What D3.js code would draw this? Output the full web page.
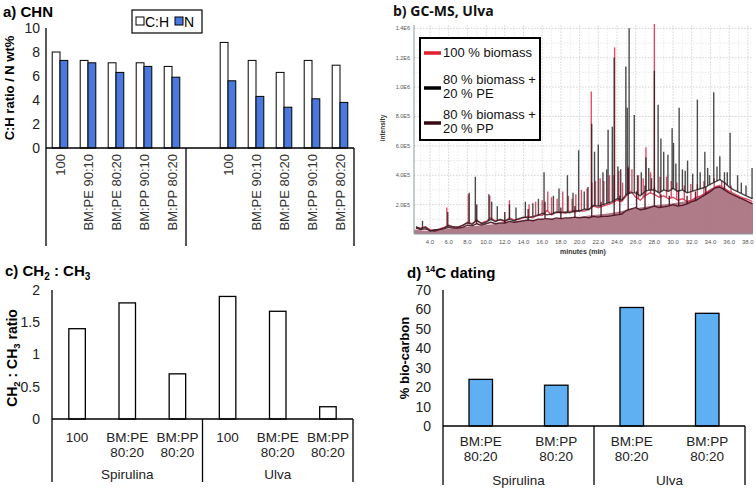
<!DOCTYPE html>
<html><head><meta charset="utf-8">
<script src="https://cdn.jsdelivr.net/npm/d3@7"></script>
<style>
body{margin:0;background:#fff;}
svg{display:block;font-family:"Liberation Sans",Arial,sans-serif;}
</style></head>
<body><svg id="c" width="756" height="491"></svg>
<script>
// ---------- Panel a: CHN ----------
const chnCategories = ["100","BM:PE 90:10","BM:PE 80:20","BM:PP 90:10","BM:PP 80:20","","100","BM:PE 90:10","BM:PE 80:20","BM:PP 90:10","BM:PP 80:20"];
const chnCH = [8.0,7.3,7.1,7.1,6.8,null,8.8,7.3,6.3,7.3,6.9];
const chnN  = [7.3,7.1,6.3,6.8,5.9,null,5.6,4.3,3.4,4.1,3.8];
const chnTicks = [0,2,4,6,8,10];
const chnGroups = ["Spirulina","Ulva"];

// ---------- Panel b: GC-MS (intensity in units of 1E5) ----------
const gcTimes = [2.5,3,3.5,4,4.5,5,5.5,6,6.5,7,7.5,8,8.5,9,9.5,10,10.5,11,11.5,12,12.5,13,13.5,14,14.5,15,15.5,16,16.5,17,17.5,18,18.5,19,19.5,20,20.5,21,21.5,22,22.5,23,23.5,24,24.5,25,25.5,26,26.5,27,27.5,28,28.5,29,29.5,30,30.5,31,31.5,32,32.5,33,33.5,34,34.5,35,35.5,36,36.5,37,37.5,38,38.5];
const gcBiomass = [0.45,0.4,0.5,0.3,0.25,0.35,0.45,0.6,0.45,0.5,0.55,0.8,0.7,0.9,0.75,0.85,1.1,0.9,0.95,0.85,1.1,0.95,1.0,1.1,1.2,1.1,1.3,1.25,1.6,1.3,1.45,1.5,1.4,1.55,1.5,1.6,1.55,1.7,1.9,1.8,1.9,2.0,2.1,2.3,2.2,2.6,2.9,2.5,2.3,2.6,2.8,2.7,2.5,2.6,2.4,2.5,2.3,2.4,2.2,2.3,2.5,2.6,2.8,3.0,3.2,3.3,3.1,2.9,2.75,2.6,2.45,2.35,2.2];
const gcPE = [0.5,0.35,0.45,0.2,0.3,0.3,0.4,0.55,0.5,0.45,0.6,0.75,0.65,0.95,0.7,0.8,1.0,0.85,1.0,0.9,1.0,0.9,1.05,1.15,1.1,1.2,1.25,1.4,1.3,1.35,1.5,1.45,1.5,1.45,1.6,1.55,1.7,1.65,1.95,1.9,2.0,2.1,2.2,2.4,2.3,2.7,2.8,2.8,2.6,2.9,3.0,3.0,2.8,3.0,2.9,3.1,2.9,3.0,2.8,2.9,3.0,3.1,3.2,3.4,3.55,3.7,3.5,3.2,3.0,2.85,2.7,2.55,2.4];
const gcPP = [0.4,0.3,0.35,0.25,0.2,0.3,0.35,0.45,0.4,0.4,0.45,0.6,0.55,0.7,0.6,0.7,0.8,0.7,0.75,0.75,0.85,0.8,0.85,0.9,0.95,0.9,1.0,1.0,1.05,1.0,1.1,1.05,1.1,1.1,1.15,1.1,1.15,1.1,1.2,1.15,1.2,1.2,1.25,1.3,1.35,1.6,1.7,1.8,1.65,1.7,1.8,1.9,1.8,1.85,1.9,2.0,1.9,1.95,2.05,2.2,2.3,2.5,2.7,2.9,3.15,3.2,3.0,2.8,2.65,2.5,2.35,2.2,2.05];
const gcFillTimes = [2.3,4,6,8,10,12,14,16,18,20,22,24,26,28,30,32,33,34,34.8,36,37,38,38.55];
const gcFill = [0.3,0.2,0.35,0.5,0.62,0.75,0.88,0.98,1.08,1.18,1.32,1.5,1.75,1.95,2.1,2.35,2.65,3.05,3.25,2.85,2.55,2.25,2.1];
const peaksBiomass = [[5.8,1.8],[8.1,2.7],[10.4,2.6],[12.5,2.3],[14.6,2.0],[15.3,2.2],[16.0,2.3],[16.6,2.9],[17.0,2.5],[17.6,2.4],[18.2,2.9],[18.8,2.6],[19.2,2.4],[19.6,2.7],[20.2,3.0],[20.8,3.1],[21.25,9.7],[21.7,3.6],[22.2,3.8],[22.6,3.6],[23.2,4.0],[23.75,12.7],[24.2,4.3],[24.6,3.5],[25.2,4.6],[25.6,4.4],[26.3,4.0],[26.8,3.8],[27.1,5.9],[27.6,4.2],[28.0,14.3],[28.6,3.9],[29.3,3.9],[29.8,3.6],[30.4,3.5],[31.2,3.3],[31.9,3.4],[32.6,3.4],[33.3,3.6],[34.4,3.8],[35.2,3.6],[36.2,3.3]];
const peaksPE = [[3.2,0.9],[5.9,1.5],[8.2,2.8],[8.85,3.9],[10.3,2.7],[10.6,2.2],[11.2,1.9],[12.5,2.0],[13.2,1.8],[14.2,2.2],[15.0,2.1],[15.6,2.4],[16.2,4.2],[17.2,2.6],[17.8,3.1],[18.7,4.0],[19.3,2.8],[19.9,5.7],[20.5,2.9],[20.9,3.2],[21.3,7.5],[21.6,5.6],[22.0,6.1],[22.5,4.2],[22.9,4.4],[23.05,7.1],[23.5,7.3],[23.7,12.0],[24.1,4.6],[24.4,4.4],[24.95,11.4],[25.1,8.6],[25.3,14.0],[25.85,8.1],[26.2,4.0],[26.6,4.2],[27.1,5.2],[27.4,4.5],[27.7,3.8],[28.0,11.1],[28.4,8.8],[28.7,6.5],[29.0,5.6],[29.45,5.4],[29.9,7.2],[30.05,6.2],[30.3,4.8],[30.65,8.6],[31.0,4.4],[31.3,4.3],[31.55,5.0],[32.1,4.1],[32.6,9.15],[32.9,4.2],[33.4,5.6],[33.7,4.5],[33.9,4.0],[34.35,9.65],[34.7,4.6],[35.0,5.3],[35.5,4.2],[35.8,4.2],[36.1,6.9],[36.9,4.0],[37.3,3.5],[37.8,3.3],[38.45,4.5]];
const peaksPP = [[9.0,2.0],[12.0,1.5],[14.5,1.7],[16.3,2.2],[18.0,1.8],[19.5,1.9],[21.3,3.5],[22.3,2.2],[23.7,4.0],[24.3,2.6],[25.2,4.5],[26.1,2.9],[27.0,3.3],[28.0,3.2],[28.7,2.7],[29.6,2.6],[30.6,3.0],[31.5,2.6],[32.4,2.9],[33.5,3.2],[35.5,3.5]];
const gcXTicks = [4,6,8,10,12,14,16,18,20,22,24,26,28,30,32,34,36,38];
const gcYTicks = [2,4,6,8,10,12,14];
const gcYTickLabels = ["2.0E5","4.0E5","6.0E5","8.0E5","1.0E6","1.2E6","1.4E6"];
const gcLegend = [["100 % biomass"],["80 % biomass +","20 % PE"],["80 % biomass +","20 % PP"]];

// ---------- Panel c: CH2:CH3 ----------
const ch2Categories = [["100"],["BM:PE","80:20"],["BM:PP","80:20"],["100"],["BM:PE","80:20"],["BM:PP","80:20"]];
const ch2Values = [1.4,1.8,0.7,1.9,1.67,0.19];
const ch2Ticks = [0,0.5,1,1.5,2];

// ---------- Panel d: 14C dating ----------
const c14Categories = [["BM:PE","80:20"],["BM:PP","80:20"],["BM:PE","80:20"],["BM:PP","80:20"]];
const c14Values = [24,21,61,58];
const c14Ticks = [0,10,20,30,40,50,60,70];

const svg = d3.select("#c");
const txt = "#222";

// ===== Panel a =====
(function(){
  const g = svg.append("g");
  const x = d3.scaleBand().domain(d3.range(chnCategories.length)).range([46,354]);
  const y = d3.scaleLinear().domain([0,10]).range([148,28]);
  const inner = d3.scaleBand().domain(["ch","n"]).range([-7.8,7.8]);
  g.append("text").attr("x",3).attr("y",17).attr("font-size",15).attr("font-weight","bold").text("a) CHN");
  svg.append("clipPath").attr("id","clipA").append("rect").attr("x",0).attr("y",0).attr("width",370).attr("height",246);
  const ax = g.append("g").attr("transform","translate(46,0)").call(d3.axisLeft(y).tickValues(chnTicks).tickSize(0).tickPadding(6));
  ax.select(".domain").remove();
  ax.selectAll("text").attr("font-size",14).attr("fill",txt).attr("font-family","Liberation Sans, Arial");
  g.append("text").attr("transform","translate(14,88) rotate(-90)").attr("text-anchor","middle").attr("font-size",13).attr("font-weight","bold").text("C:H ratio / N wt%");
  const idx = d3.range(chnCategories.length).filter(i=>chnCH[i]!=null);
  g.selectAll(".ch").data(idx).join("rect").attr("x",i=>x(i)+x.bandwidth()/2+inner("ch")).attr("width",inner.bandwidth())
    .attr("y",i=>y(chnCH[i])).attr("height",i=>y(0)-y(chnCH[i])).attr("fill","#fff").attr("stroke","#000").attr("stroke-width",1);
  g.selectAll(".n").data(idx).join("rect").attr("x",i=>x(i)+x.bandwidth()/2+inner("n")).attr("width",inner.bandwidth())
    .attr("y",i=>y(chnN[i])).attr("height",i=>y(0)-y(chnN[i])).attr("fill","#4a78dc").attr("stroke","#000").attr("stroke-width",1);
  const gc = g.append("g").attr("clip-path","url(#clipA)");
  gc.append("line").attr("x1",46).attr("x2",46).attr("y1",y(10)).attr("y2",260).attr("stroke","#000").attr("stroke-width",1.3);
  gc.append("line").attr("x1",46).attr("x2",354).attr("y1",y(0)).attr("y2",y(0)).attr("stroke","#000").attr("stroke-width",1.3);
  [x(5)+x.bandwidth()/2-14, 354].forEach(xx=>gc.append("line").attr("x1",xx).attr("x2",xx).attr("y1",y(0)).attr("y2",260).attr("stroke","#000").attr("stroke-width",1.3));
  gc.selectAll(".tl").data(idx).join("text").attr("transform",i=>`translate(${x(i)+x.bandwidth()/2+4.5},${y(0)+6}) rotate(-90)`)
    .attr("text-anchor","end").attr("font-size",13).attr("fill","#333").text(i=>chnCategories[i]);
  const gx = [ (46+185)/2, (185+354)/2 ];
  gc.selectAll(".gl").data(chnGroups).join("text").attr("x",(d,i)=>gx[i]).attr("y",256).attr("text-anchor","middle").attr("font-size",13).attr("fill",txt).text(d=>d);
  // legend
  const lg = g.append("g");
  lg.append("rect").attr("x",132).attr("y",10).attr("width",70).attr("height",23).attr("fill","#fff").attr("stroke","#000").attr("stroke-width",1.2);
  lg.append("rect").attr("x",136).attr("y",17).attr("width",8).attr("height",8).attr("fill","#fff").attr("stroke","#000");
  lg.append("text").attr("x",145).attr("y",26.5).attr("font-size",14).text("C:H");
  lg.append("rect").attr("x",175).attr("y",17).attr("width",8).attr("height",8).attr("fill","#4a78dc").attr("stroke","#000");
  lg.append("text").attr("x",184).attr("y",26.5).attr("font-size",14).text("N");
})();

// ===== Panel b =====
(function(){
  const g = svg.append("g");
  const x = d3.scaleLinear().domain([2.29,38.55]).range([414,753]);
  const y = d3.scaleLinear().domain([0,14.2]).range([234,25.4]);
  g.append("text").attr("x",393).attr("y",16).attr("font-size",14).attr("font-weight","bold").attr("font-family","Open Sans, sans-serif").attr("fill","#111").text("b) GC-MS, Ulva");
  // grid
  const minorX = d3.range(3,39,1), minorY = d3.range(1,15,1);
  g.selectAll(".gx").data(minorX).join("line").attr("x1",d=>x(d)).attr("x2",d=>x(d)).attr("y1",y(14.2)).attr("y2",y(0))
    .attr("stroke",d=>d%2===0?"#c8c8c8":"#e4e4e4").attr("stroke-dasharray","1.5,1.5").attr("stroke-width",0.8);
  g.selectAll(".gy").data(minorY).join("line").attr("x1",414).attr("x2",753).attr("y1",d=>y(d)).attr("y2",d=>y(d))
    .attr("stroke",d=>d%2===0?"#c8c8c8":"#e4e4e4").attr("stroke-dasharray","1.5,1.5").attr("stroke-width",0.8);
  // fill
  const area = d3.area().x((d,i)=>x(gcFillTimes[i])).y0(y(0)).y1(d=>y(d)).curve(d3.curveMonotoneX);
  g.append("path").attr("d",area(gcFill)).attr("fill","#a9707f").attr("opacity",0.92);
  const line = d3.line().x((d,i)=>x(gcTimes[i])).y(d=>y(d));
  function trace(vals, peaks, color, op){
    const base = d3.scaleLinear().domain(gcTimes).range(vals);
    g.append("path").attr("d",line(vals)).attr("fill","none").attr("stroke",color).attr("stroke-width",1.4).attr("stroke-opacity",op).attr("stroke-linejoin","round");
    g.selectAll(null).data(peaks).join("line").attr("x1",d=>x(d[0])).attr("x2",d=>x(d[0]))
      .attr("y1",d=>y(base(d[0]))).attr("y2",d=>y(d[1])).attr("stroke",color).attr("stroke-width",1.4).attr("stroke-opacity",op);
  }
  trace(gcBiomass, peaksBiomass, "#d6304c", 0.85);
  trace(gcPE, peaksPE, "#1a1a1a", 0.78);
  trace(gcPP, peaksPP, "#4a1020", 0.9);
  // axes
  g.append("line").attr("x1",414).attr("x2",414).attr("y1",25).attr("y2",234).attr("stroke","#8a9a9a").attr("stroke-width",1);
  g.append("line").attr("x1",414).attr("x2",753).attr("y1",234).attr("y2",234).attr("stroke","#8a9a9a").attr("stroke-width",1);
  g.selectAll(".xt").data(gcXTicks).join("text").attr("x",d=>x(d)).attr("y",244).attr("text-anchor","middle").attr("font-size",6).attr("fill","#555").text(d=>d.toFixed(1));
  g.selectAll(".yt").data(gcYTicks).join("text").attr("x",410).attr("y",d=>y(d)+2).attr("text-anchor","end").attr("font-size",5.5).attr("fill","#555").text((d,i)=>gcYTickLabels[i]);
  g.append("text").attr("x",583).attr("y",254).attr("text-anchor","middle").attr("font-size",7).attr("font-weight","bold").attr("fill","#333").text("minutes (min)");
  g.append("text").attr("transform","translate(385,128) rotate(-90)").attr("text-anchor","middle").attr("font-size",6.5).attr("font-weight","bold").attr("fill","#333").text("intensity");
  // legend
  g.append("rect").attr("x",420).attr("y",38).attr("width",120).attr("height",102).attr("fill","#fff").attr("stroke","#000").attr("stroke-width",2);
  const lcol = ["#e0202c","#000","#3a0a14"];
  const ly = [[57],[84,98],[119,133]];
  const my = [53,88,123];
  gcLegend.forEach((lines,i)=>{
    g.append("line").attr("x1",424).attr("x2",441).attr("y1",my[i]).attr("y2",my[i]).attr("stroke",lcol[i]).attr("stroke-width",3.5);
    lines.forEach((t,j)=>g.append("text").attr("x",443).attr("y",ly[i][j]).attr("font-size",13).attr("fill","#111").text(t));
  });
})();

// ===== generic category bar panel =====
function catPanel(opt){
  const g = svg.append("g");
  const x = d3.scaleBand().domain(d3.range(opt.cats.length)).range([opt.x0,opt.x1]);
  const y = d3.scaleLinear().domain(opt.ydom).range([opt.yb,opt.yt]);
  const ax = g.append("g").attr("transform",`translate(${opt.x0},0)`).call(d3.axisLeft(y).tickValues(opt.ticks).tickSize(0).tickPadding(opt.pad).tickFormat(d=>String(d)));
  ax.select(".domain").remove();
  ax.selectAll("text").attr("font-size",14).attr("fill",txt).attr("font-family","Liberation Sans, Arial");
  g.selectAll(".b").data(opt.vals).join("rect").attr("x",(d,i)=>x(i)+x.bandwidth()/2-opt.bw/2).attr("width",opt.bw)
    .attr("y",d=>y(d)).attr("height",d=>y(0)-y(d)).attr("fill",opt.fill).attr("stroke","#000").attr("stroke-width",1.3);
  g.append("line").attr("x1",opt.x0).attr("x2",opt.x0).attr("y1",opt.yt).attr("y2",opt.ylow).attr("stroke","#000").attr("stroke-width",1.3);
  g.append("line").attr("x1",opt.x0).attr("x2",opt.x1).attr("y1",opt.yb).attr("y2",opt.yb).attr("stroke","#000").attr("stroke-width",1.3);
  const mid = (opt.x0+opt.x1)/2;
  [mid,opt.x1].forEach(xx=>g.append("line").attr("x1",xx).attr("x2",xx).attr("y1",opt.yb).attr("y2",opt.ylow).attr("stroke","#000").attr("stroke-width",1.3));
  opt.cats.forEach((lines,i)=>lines.forEach((t,j)=>g.append("text").attr("x",x(i)+x.bandwidth()/2).attr("y",opt.yb+opt.lab1+j*15)
     .attr("text-anchor","middle").attr("font-size",13.5).attr("fill",txt).text(t)));
  ["Spirulina","Ulva"].forEach((t,i)=>g.append("text").attr("x",i? (mid+opt.x1)/2 : (opt.x0+mid)/2).attr("y",opt.glab)
     .attr("text-anchor","middle").attr("font-size",13.5).attr("fill",txt).text(t));
  return g;
}

// ===== Panel c =====
(function(){
  const g = catPanel({cats:ch2Categories, vals:ch2Values, ticks:ch2Ticks, ydom:[0,2], x0:52, x1:353, yb:419, yt:290, ylow:482, bw:16.5, fill:"#fff", pad:12, lab1:23, glab:479});
  const t = g.append("text").attr("x",5).attr("y",276).attr("font-size",15).attr("font-weight","bold");
  t.append("tspan").text("c) CH");
  t.append("tspan").attr("font-size",10).attr("dy",4).text("2");
  t.append("tspan").attr("dy",-4).text(" : CH");
  t.append("tspan").attr("font-size",10).attr("dy",4).text("3");
  const yl = g.append("text").attr("transform","translate(17,358) rotate(-90)").attr("text-anchor","middle").attr("font-size",14).attr("font-weight","bold");
  yl.append("tspan").text("CH");
  yl.append("tspan").attr("font-size",9.5).attr("dy",3).text("2");
  yl.append("tspan").attr("dy",-3).text(" : CH");
  yl.append("tspan").attr("font-size",9.5).attr("dy",3).text("3");
  yl.append("tspan").attr("dy",-3).text(" ratio");
})();

// ===== Panel d =====
(function(){
  const g = catPanel({cats:c14Categories, vals:c14Values, ticks:c14Ticks, ydom:[0,70], x0:443, x1:745, yb:426, yt:290, ylow:485, bw:23.5, fill:"#5eb0f2", pad:12, lab1:20, glab:485});
  const t = g.append("text").attr("x",407).attr("y",278).attr("font-size",15).attr("font-weight","bold");
  t.append("tspan").text("d) ");
  t.append("tspan").attr("font-size",9).attr("dy",-6).text("14");
  t.append("tspan").attr("dy",6).text("C dating");
  g.append("text").attr("transform","translate(409,358) rotate(-90)").attr("text-anchor","middle").attr("font-size",13).attr("font-weight","bold").text("% bio-carbon");
})();
</script>
</body></html>
